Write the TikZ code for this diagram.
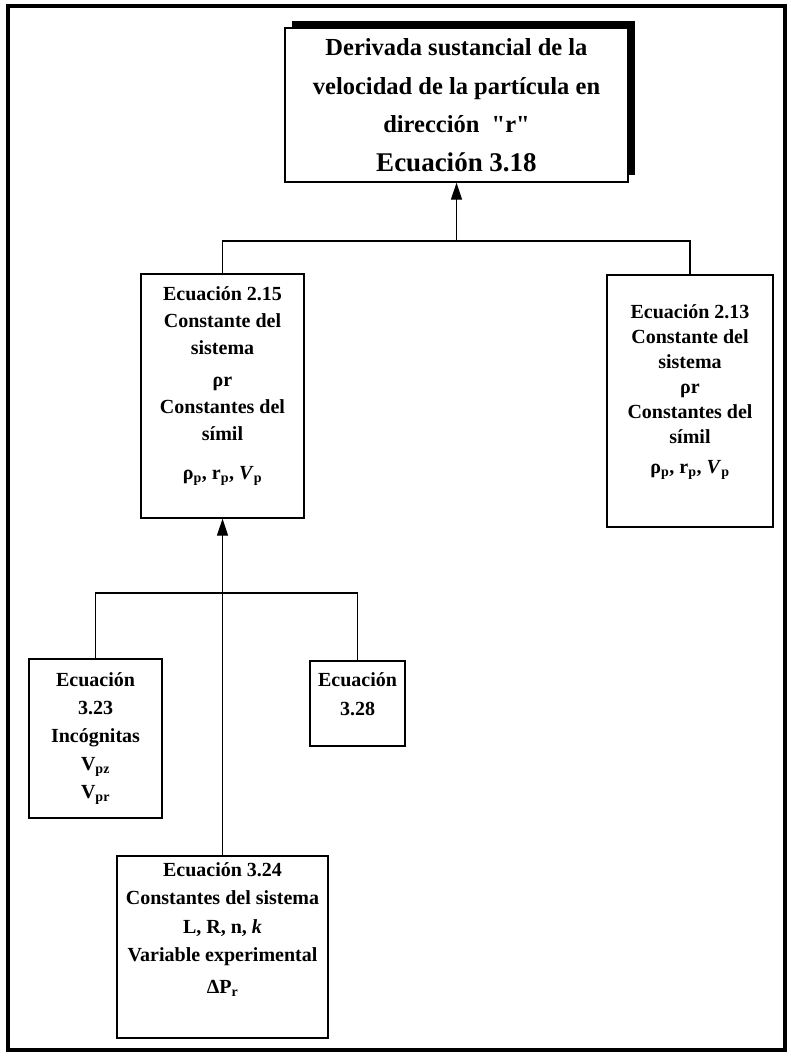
\documentclass[tikz,border=0pt]{standalone}
\usepackage{fontspec}
\setmainfont{Liberation Serif}
\usetikzlibrary{arrows.meta, positioning, shadows}

\begin{document}
\begin{tikzpicture}[x=1pt, y=-1pt,
  eqbox/.style={draw, line width=1.4pt, fill=white, inner sep=0pt},
  eqtxt/.style={align=center, inner sep=0pt, font=\fontsize{20}{27}\selectfont\bfseries},
  conn/.style={line width=1.2pt},
  tip/.style={-{Triangle[length=17pt, width=11pt]}}]

  \useasboundingbox (0,0) rectangle (791,1059);
  \draw[line width=3.5pt] (8,6) rectangle (785,1050);

  % Cuadro principal
  \node[eqbox, minimum width=343pt, minimum height=154pt, align=center,
    drop shadow={shadow xshift=7pt, shadow yshift=7pt, fill=black, opacity=1},
    font=\fontsize{24.5}{38.5}\selectfont\bfseries] (top) at (456.5,105)
    {Derivada sustancial de la\\velocidad de la partícula en\\dirección~ \textquotedbl r\textquotedbl\\
     {\fontsize{27}{38.5}\selectfont Ecuación 3.18}};

  % Cuadros de ecuaciones
  \foreach \n/\x/\y/\w/\h in {e215/222.5/396/163/244, e213/690/401/166/252,
      e323/95.5/738.5/133/159, e328/357.5/703.5/95/85, e324/222.5/947/211/182} {
    \node[eqbox, minimum width=\w pt, minimum height=\h pt] (\n) at (\x,\y) {};
  }

  % Textos
  \node[eqtxt, anchor=north, below=13pt of e215.north] (t215)
    {Ecuación 2.15\\Constante del\\sistema\\[5pt] ρr\\Constantes del\\símil\\[12pt]
     ρ\textsubscript{p}, r\textsubscript{p}, \textit{V}\textsubscript{p}};
  \node[eqtxt, anchor=north, below=30pt of e213.north,
    font=\fontsize{20}{25}\selectfont\bfseries] (t213)
    {Ecuación 2.13\\Constante del\\sistema\\ρr\\Constantes del\\símil\\[5pt]
     ρ\textsubscript{p}, r\textsubscript{p}, \textit{V}\textsubscript{p}};
  \node[eqtxt, anchor=north, below=14pt of e323.north,
    font=\fontsize{20}{28}\selectfont\bfseries] (t323)
    {Ecuación\\3.23\\Incógnitas\\V\textsubscript{pz}\\V\textsubscript{pr}};
  \node[eqtxt, anchor=north, below=12pt of e328.north,
    font=\fontsize{20}{29}\selectfont\bfseries] (t328) {Ecuación\\3.28};
  \node[eqtxt, anchor=north, below=7pt of e324.north,
    font=\fontsize{20}{28.5}\selectfont\bfseries] (t324)
    {Ecuación 3.24\\Constantes del sistema\\L, R, n, \textit{k}\\Variable experimental\\[3pt]
     ΔP\textsubscript{r}};

  % Conectores
  \coordinate (j1) at (456.5,241);
  \draw[conn] (e215.north) |- (j1) -| (e213.north);
  \draw[conn, tip] (j1) -- (top.south);

  \coordinate (j2) at (222.5,593);
  \draw[conn] (e323.north) |- (j2) -| (e328.north);
  \draw[conn, tip] (e324.north) -- (e215.south);
\end{tikzpicture}
\end{document}
